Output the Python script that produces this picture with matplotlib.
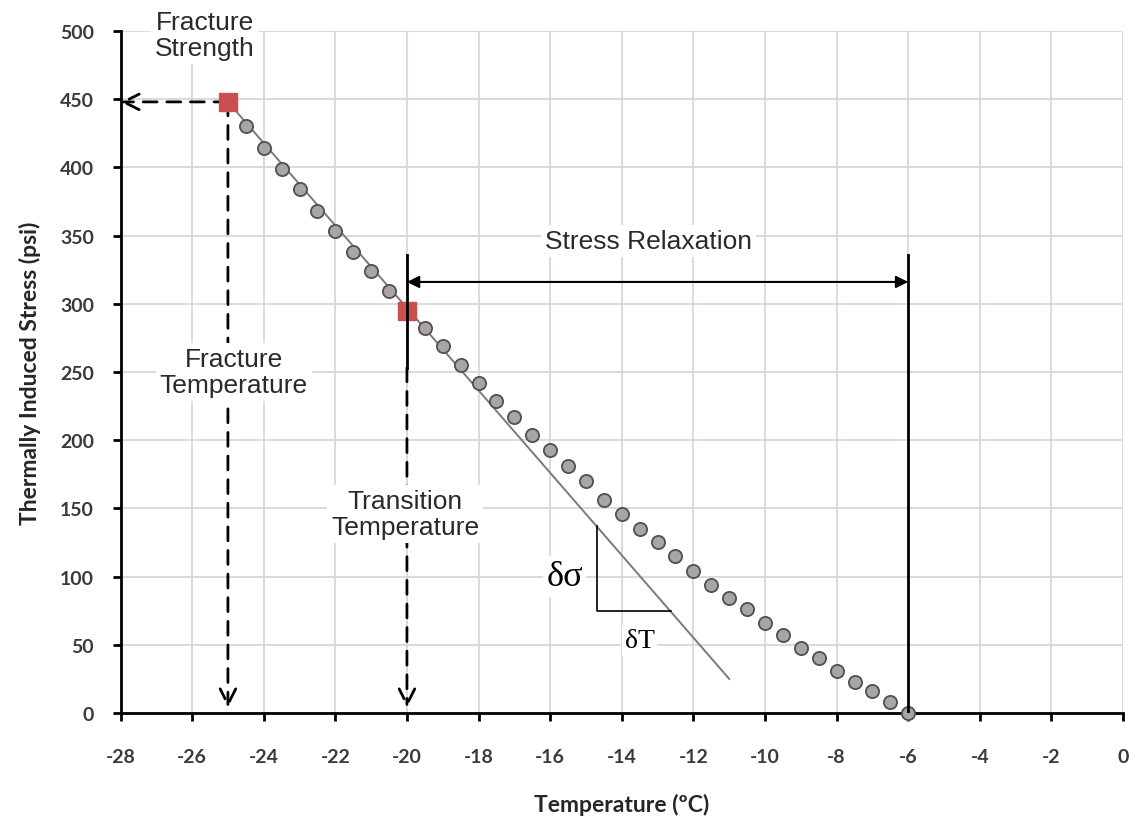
import numpy as np
import matplotlib.pyplot as plt

plt.rcParams["axes.unicode_minus"] = False

# Measured thermal stress curve (temperature in degC, stress in psi)
temps = [-24.5, -24.0, -23.5, -23.0, -22.5, -22.0, -21.5, -21.0, -20.5,
         -19.5, -19.0, -18.5, -18.0, -17.5, -17.0, -16.5, -16.0, -15.5,
         -15.0, -14.5, -14.0, -13.5, -13.0, -12.5, -12.0, -11.5, -11.0,
         -10.5, -10.0, -9.5, -9.0, -8.5, -8.0, -7.5, -7.0, -6.5, -6.0]
stress = [430, 414, 399, 384, 368, 353, 338, 324, 309,
          282, 269, 255, 242, 229, 217, 204, 193, 181,
          170, 156, 146, 135, 125, 115, 104, 94, 84,
          76, 66, 57, 48, 40, 31, 23, 16, 8, 0]

# Key points: fracture and transition
fracture_T, fracture_S = -25.0, 448
transition_T, transition_S = -20.0, 295
zero_stress_T = -6.0

# Linear (elastic) trend line
trend_T = [-25.0, -11.0]
trend_S = [448, 25]

x_ticks = [-28, -26, -24, -22, -20, -18, -16, -14, -12, -10, -8, -6, -4, -2, 0]
y_ticks = [0, 50, 100, 150, 200, 250, 300, 350, 400, 450, 500]

fig = plt.figure(figsize=(11.39, 8.28), dpi=100)
ax = fig.add_axes([0.1058, 0.1377, 0.8802, 0.8237])

ax.set_xlim(-28, 0)
ax.set_ylim(0, 500)
ax.set_xticks(x_ticks)
ax.set_yticks(y_ticks)
ax.grid(True, color="#d8d2dc", lw=1.2)
ax.set_axisbelow(True)
for s in ["top", "right"]:
    ax.spines[s].set_visible(False)
for s in ["left", "bottom"]:
    ax.spines[s].set_linewidth(2)
ax.tick_params(direction="out", length=6, width=2, labelsize=14,
               labelcolor="#3a3a3a")
ax.tick_params(axis="y", pad=13)
ax.tick_params(axis="x", pad=19)
for lab in ax.get_xticklabels() + ax.get_yticklabels():
    lab.set_family("Lato")
    lab.set_weight("bold")

ax.set_xlabel("Temperature (ºC)", family="Lato", weight="bold", fontsize=16.5,
              color="#262626", labelpad=20)
ax.set_ylabel("Thermally Induced Stress (psi)", family="Lato", weight="bold",
              fontsize=16.5, color="#262626", labelpad=14)

# trend line and data
ax.plot(trend_T, trend_S, color="#7a7a7a", lw=1.4, zorder=3)
ax.plot(temps, stress, "o", ms=9.5, mfc="#a7a5aa", mec="#505050", mew=1.3,
        zorder=4, clip_on=False)
ax.plot([fracture_T, transition_T], [fracture_S, transition_S], "s", ms=13,
        color="#c9504e", zorder=5)

# fracture strength / temperature dashed arrows
dash = dict(arrowstyle="->", lw=2, color="black", linestyle=(0, (5, 3.5)),
            mutation_scale=28, shrinkA=0, shrinkB=0)
ax.annotate("", xy=(-28, fracture_S), xytext=(fracture_T, fracture_S),
            arrowprops=dash, annotation_clip=False)
ax.annotate("", xy=(fracture_T, 4), xytext=(fracture_T, fracture_S),
            arrowprops=dash)
ax.annotate("", xy=(transition_T, 4), xytext=(transition_T, 253),
            arrowprops=dash)

# stress relaxation bracket
ax.plot([transition_T, transition_T], [253, 336], color="black", lw=2, zorder=6)
ax.plot([zero_stress_T, zero_stress_T], [0, 336], color="black", lw=2, zorder=6)
ax.annotate("", xy=(transition_T, 316), xytext=(zero_stress_T, 316),
            arrowprops=dict(arrowstyle="<|-|>", lw=1.5, color="black",
                            mutation_scale=18, shrinkA=0, shrinkB=0))

# slope triangle
ax.plot([-14.7, -14.7, -12.63], [137, 74.5, 74.5], color="black", lw=1.2,
        zorder=3)

txt = dict(ha="center", va="center", fontsize=19, color="#2a2a2a",
           family="Liberation Sans", linespacing=1.1)
box = dict(boxstyle="square,pad=0.15", fc="white", ec="none")
ax.text(-25.65, 497, "Fracture\nStrength", bbox=box, clip_on=False, **txt)
ax.text(-24.84, 250, "Fracture\nTemperature", bbox=box, **txt)
ax.text(-20.05, 146, "Transition\nTemperature", bbox=box, **txt)
ax.text(-13.25, 346, "Stress Relaxation", bbox=box, **txt)

ax.text(-15.6, 100, "δσ", ha="center", va="center", fontsize=26,
        family="Liberation Serif", color="black",
        bbox=dict(boxstyle="square,pad=0.1", fc="white", ec="none"))
ax.text(-13.5, 53, "δT", ha="center", va="center", fontsize=20,
        family="Liberation Serif", color="black",
        bbox=dict(boxstyle="square,pad=0.1", fc="white", ec="none"))

fig.savefig("out.png", dpi=100)
